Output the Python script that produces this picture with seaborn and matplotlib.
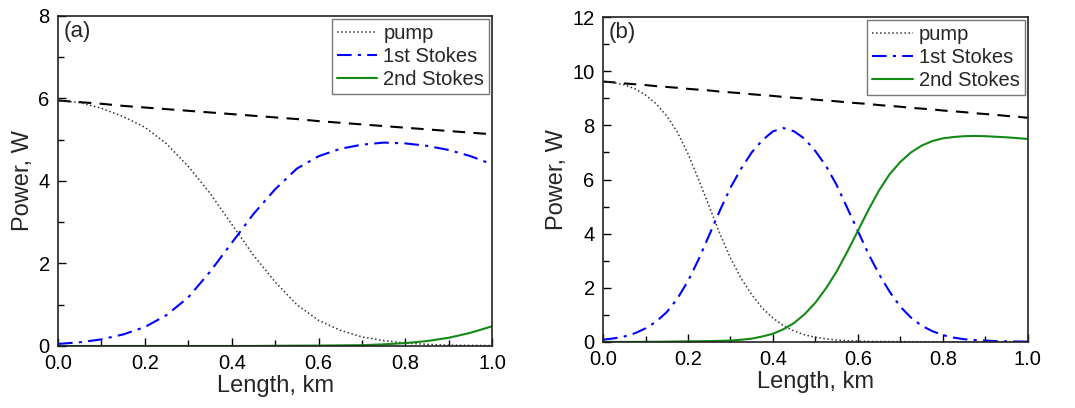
import numpy as np
import matplotlib
matplotlib.use("Agg")
import matplotlib.pyplot as plt
import seaborn as sns
from matplotlib.ticker import MultipleLocator, FormatStrFormatter

# panel (a)
x_a = [0.0, 0.05, 0.1, 0.15, 0.2, 0.25, 0.3, 0.35, 0.4, 0.45, 0.5,
       0.55, 0.6, 0.65, 0.7, 0.75, 0.8, 0.85, 0.9, 0.95, 1.0]
pump_a = [5.95, 5.9, 5.76, 5.56, 5.3, 4.9, 4.35, 3.7, 2.95, 2.2, 1.55,
          1.0, 0.62, 0.38, 0.22, 0.13, 0.07, 0.04, 0.02, 0.015, 0.01]
stokes1_a = [0.05, 0.09, 0.16, 0.28, 0.46, 0.75, 1.18, 1.8, 2.5, 3.2, 3.8,
             4.3, 4.6, 4.78, 4.88, 4.93, 4.91, 4.85, 4.75, 4.6, 4.4]
stokes2_a = [0.0, 0.0, 0.0, 0.0, 0.0, 0.0, 0.0, 0.0, 0.0, 0.0, 0.005,
             0.008, 0.01, 0.015, 0.02, 0.04, 0.07, 0.12, 0.2, 0.32, 0.48]
total_a = [5.95, 5.91, 5.87, 5.82, 5.78, 5.74, 5.7, 5.66, 5.62, 5.58, 5.54,
           5.5, 5.45, 5.41, 5.37, 5.33, 5.29, 5.25, 5.21, 5.17, 5.13]

# panel (b)
x_b = [0.0, 0.025, 0.05, 0.075, 0.1, 0.125, 0.15, 0.175, 0.2, 0.225,
       0.25, 0.275, 0.3, 0.325, 0.35, 0.375, 0.4, 0.425, 0.45, 0.475,
       0.5, 0.525, 0.55, 0.575, 0.6, 0.625, 0.65, 0.675, 0.7, 0.725,
       0.75, 0.775, 0.8, 0.825, 0.85, 0.875, 0.9, 0.925, 0.95, 0.975, 1.0]
pump_b = [9.62, 9.58, 9.5, 9.35, 9.12, 8.8, 8.35, 7.75, 6.95, 6.0,
          5.0, 4.0, 3.1, 2.35, 1.75, 1.25, 0.88, 0.6, 0.4, 0.26,
          0.17, 0.11, 0.07, 0.045, 0.03, 0.02, 0.015, 0.012, 0.01, 0.008,
          0.005, 0.003, 0.002, 0.0, 0.0, 0.0, 0.0, 0.0, 0.0, 0.0, 0.0]
stokes1_b = [0.08, 0.13, 0.2, 0.32, 0.5, 0.75, 1.1, 1.6, 2.25, 3.05,
             3.95, 4.85, 5.7, 6.4, 7.0, 7.45, 7.78, 7.9, 7.78, 7.5,
             7.05, 6.5, 5.8, 4.95, 4.1, 3.25, 2.5, 1.85, 1.3, 0.9,
             0.6, 0.4, 0.25, 0.16, 0.1, 0.07, 0.05, 0.03, 0.02, 0.015, 0.01]
stokes2_b = [0.0, 0.0, 0.0, 0.0, 0.005, 0.005, 0.01, 0.015, 0.02, 0.025,
             0.03, 0.04, 0.05, 0.08, 0.12, 0.2, 0.3, 0.47, 0.7, 1.03,
             1.45, 1.98, 2.6, 3.33, 4.1, 4.88, 5.6, 6.2, 6.65, 7.0,
             7.25, 7.42, 7.52, 7.57, 7.6, 7.61, 7.6, 7.58, 7.56, 7.53, 7.5]
total_b = [9.62, 9.59, 9.55, 9.52, 9.49, 9.45, 9.42, 9.39, 9.35, 9.32,
           9.29, 9.25, 9.22, 9.19, 9.15, 9.12, 9.09, 9.05, 9.02, 8.99,
           8.95, 8.92, 8.89, 8.85, 8.82, 8.79, 8.75, 8.72, 8.69, 8.65,
           8.62, 8.59, 8.55, 8.52, 8.49, 8.45, 8.42, 8.39, 8.35, 8.32, 8.28]

panels = [
    ("(a)", x_a, pump_a, stokes1_a, stokes2_a, total_a, 8, 2),
    ("(b)", x_b, pump_b, stokes1_b, stokes2_b, total_b, 12, 2),
]

sns.set_theme(style="ticks")
plt.rcParams['font.family'] = ['Liberation Sans', 'DejaVu Sans']

fig = plt.figure(figsize=(10.75, 4.08), dpi=100)
ax_a = fig.add_axes([0.054, 0.152, 0.404, 0.809])
ax_b = fig.add_axes([0.561, 0.162, 0.395, 0.796])

for ax, (tag, x, pump, s1, s2, tot, ymax, ystep) in zip([ax_a, ax_b], panels):
    sns.lineplot(x=x, y=tot, ax=ax, color="black", lw=1.5)
    ax.lines[-1].set_dashes((6, 4))
    sns.lineplot(x=x, y=pump, ax=ax, color="#333333", lw=1.1, label="pump")
    ax.lines[-1].set_linestyle(":")
    sns.lineplot(x=x, y=s1, ax=ax, color="#0000ff", lw=1.5, label="1st Stokes")
    ax.lines[-1].set_dashes((7, 3, 1.5, 3))
    sns.lineplot(x=x, y=s2, ax=ax, color="#138a13", lw=1.5, label="2nd Stokes")

    ax.set_xlim(0, 1.0)
    ax.set_ylim(0, ymax)
    ax.xaxis.set_major_locator(MultipleLocator(0.2))
    ax.xaxis.set_minor_locator(MultipleLocator(0.1))
    ax.yaxis.set_major_locator(MultipleLocator(ystep))
    ax.yaxis.set_minor_locator(MultipleLocator(ystep / 2))
    ax.tick_params(which="both", direction="in", labelsize=14.5, colors="black", pad=6)
    ax.tick_params(which="major", length=6, width=1)
    ax.tick_params(which="minor", length=4, width=1)
    ax.xaxis.set_major_formatter(FormatStrFormatter("%.1f"))
    for sp in ax.spines.values():
        sp.set_visible(True)
        sp.set_color("#222222")
        sp.set_linewidth(1.2)
    ax.set_xlabel("Length, km", fontsize=17, labelpad=1)
    ax.set_ylabel("Power, W", fontsize=17, labelpad=3)
    ax.text(0.012, 0.985, tag, transform=ax.transAxes, fontsize=16,
            va="top", ha="left")
    leg = ax.legend(loc="upper right", fontsize=14.5, frameon=True,
                    fancybox=False, edgecolor="#777777", framealpha=1,
                    handlelength=2.0, handletextpad=0.3, borderpad=0.25,
                    labelspacing=0.2, borderaxespad=0.15)
    leg.get_frame().set_linewidth(1.0)

fig.savefig("out.png", dpi=100)
